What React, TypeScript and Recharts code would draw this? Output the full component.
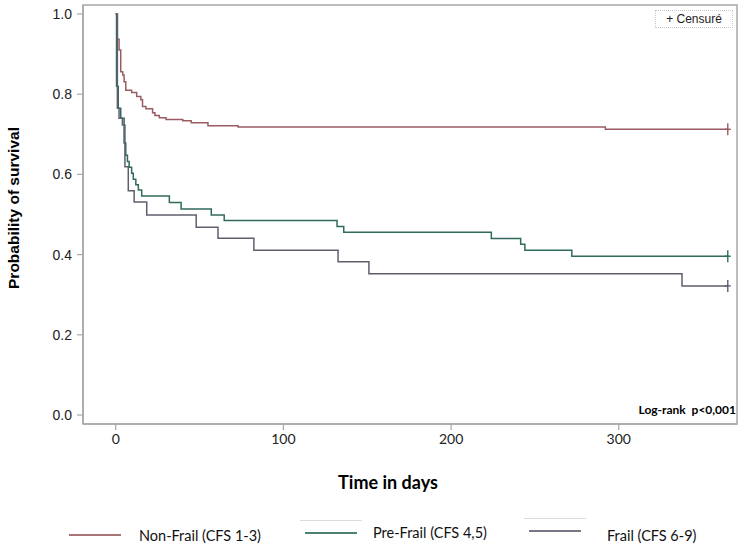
import React from "react";
import { LineChart, Line, XAxis, YAxis, ReferenceArea } from "recharts";

// ---- data ----
const nonFrailDays = [0, 1, 2, 3, 4.2, 5, 6, 9.5, 12.5, 15, 16, 18, 22, 23.4, 26, 30, 40, 45, 55, 73, 292, 365];
const nonFrailSurv = [1.0, 0.937, 0.91, 0.856, 0.848, 0.831, 0.81, 0.804, 0.794, 0.786, 0.769, 0.764, 0.754, 0.747, 0.741, 0.737, 0.734, 0.729, 0.721, 0.718, 0.7125, 0.7125];

const preFrailDays = [0, 0.5, 1.5, 3, 5, 6, 7, 8, 9.5, 10.5, 12, 13.5, 15.5, 32, 39, 57, 64.7, 132, 136, 224, 241.5, 244, 272, 365];
const preFrailSurv = [1.0, 0.82, 0.765, 0.74, 0.678, 0.648, 0.632, 0.618, 0.603, 0.588, 0.574, 0.561, 0.546, 0.53, 0.514, 0.499, 0.485, 0.47, 0.456, 0.44, 0.426, 0.411, 0.396, 0.396];

const frailDays = [0, 1, 2, 4, 5.5, 7.5, 11, 18.5, 48, 61, 82.4, 132.6, 151, 337.7, 365];
const frailSurv = [1.0, 0.765, 0.74, 0.723, 0.619, 0.559, 0.531, 0.499, 0.468, 0.441, 0.411, 0.382, 0.352, 0.322, 0.322];

const seriesNames = ["Non-Frail (CFS 1-3)", "Pre-Frail (CFS 4,5)", "Frail (CFS 6-9)"];
const seriesColors = ["#9a5c60", "#2f6a5c", "#5e5f6e"];

const xTicks = [0, 100, 200, 300];
const yTicks = [0, 0.2, 0.4, 0.6, 0.8, 1.0];

const xDomain: [number, number] = [-19.5, 370.5];
const yDomain: [number, number] = [-0.0224, 1.0224];

const toPoints = (days: number[], surv: number[]) => days.map((d, i) => ({ day: d, surv: surv[i] }));

const series = [
  { name: seriesNames[0], color: seriesColors[0], data: toPoints(nonFrailDays, nonFrailSurv) },
  { name: seriesNames[1], color: seriesColors[1], data: toPoints(preFrailDays, preFrailSurv) },
  { name: seriesNames[2], color: seriesColors[2], data: toPoints(frailDays, frailSurv) },
];

const FRAME = "#a8a8a8";

const makeCensorDot = (lastIndex: number, color: string) => (props: any) => {
  const { cx, cy, index } = props;
  if (index !== lastIndex || cx == null || cy == null) return <g key={`e${index}`} />;
  return (
    <g key={`c${index}`}>
      <line x1={cx} x2={cx} y1={cy - 6} y2={cy + 6} stroke={color} strokeWidth={1.4} />
      <line x1={cx - 3} x2={cx + 3} y1={cy} y2={cy} stroke={color} strokeWidth={1.4} />
    </g>
  );
};

const legendLineX = [69, 305, 529];
const legendTextX = [139, 373, 607];
const legendLineY = [535, 533, 531];
const legendTextY = [535, 532, 535];

export default function App() {
  return (
    <div style={{ position: "absolute", left: 0, top: 0, width: 744, height: 548, background: "#fff" }}>
      <LineChart width={744} height={548} margin={{ top: 5, right: 7, bottom: 94, left: 23 }}>
        <XAxis
          type="number"
          dataKey="day"
          domain={xDomain}
          ticks={xTicks}
          allowDataOverflow
          axisLine={{ stroke: FRAME, strokeWidth: 1.5 }}
          tickLine={{ stroke: FRAME, strokeWidth: 1.2 }}
          tickSize={6}
          tickMargin={4}
          height={30}
          tick={{ fontFamily: "Lato", fontSize: 14, fill: "#222" }}
        />
        <YAxis
          type="number"
          dataKey="surv"
          domain={yDomain}
          ticks={yTicks}
          allowDataOverflow
          width={60}
          axisLine={{ stroke: FRAME, strokeWidth: 1.5 }}
          tickLine={{ stroke: FRAME, strokeWidth: 1.2 }}
          tickSize={6}
          tickMargin={5}
          tickFormatter={(v: number) => v.toFixed(1)}
          tick={{ fontFamily: "Liberation Sans", fontSize: 14, fill: "#222" }}
        />
        <ReferenceArea
          x1={xDomain[0]}
          x2={xDomain[1]}
          y1={yDomain[0]}
          y2={yDomain[1]}
          fill="none"
          stroke={FRAME}
          strokeWidth={1.5}
          ifOverflow="visible"
        />
        {series.map((s) => (
          <Line
            key={s.name}
            data={s.data}
            dataKey="surv"
            name={s.name}
            type="stepAfter"
            stroke={s.color}
            strokeWidth={1.5}
            dot={makeCensorDot(s.data.length - 1, s.color)}
            activeDot={false}
            isAnimationActive={false}
          />
        ))}
      </LineChart>

      {/* y-axis title */}
      <div
        style={{
          position: "absolute",
          left: 13.5,
          top: 208,
          transform: "translate(-50%, -50%) rotate(-90deg)",
          whiteSpace: "nowrap",
          fontFamily: "Liberation Sans",
          fontWeight: "bold",
          fontSize: 15.5,
          color: "#000",
        }}
      >
        Probability of survival
      </div>

      {/* x-axis title */}
      <div
        style={{
          position: "absolute",
          left: 388,
          top: 482,
          transform: "translate(-50%, -50%)",
          whiteSpace: "nowrap",
          fontFamily: "Lato",
          fontWeight: "bold",
          fontSize: 18,
          color: "#000",
        }}
      >
        Time in days
      </div>

      {/* log-rank */}
      <div
        style={{
          position: "absolute",
          right: 8,
          top: 409,
          transform: "translateY(-50%)",
          whiteSpace: "nowrap",
          fontFamily: "Lato",
          fontWeight: "bold",
          fontSize: 12,
          color: "#000",
        }}
      >
        Log-rank&nbsp; p&lt;0,001
      </div>

      {/* censored legend */}
      <div
        style={{
          position: "absolute",
          left: 655,
          top: 10,
          width: 78,
          height: 18,
          border: "1px dotted #c8c8c8",
          boxSizing: "border-box",
          fontFamily: "Liberation Sans",
          fontSize: 12,
          lineHeight: "16px",
          textAlign: "center",
          color: "#222",
        }}
      >
        + Censuré
      </div>

      {/* bottom legend */}
      {series.map((s, i) => (
        <React.Fragment key={s.name}>
          {i > 0 && (
            <div
              style={{
                position: "absolute",
                left: legendLineX[i] - 5,
                top: legendLineY[i] - 13,
                width: 62,
                height: 1,
                background: "#dcdcdc",
              }}
            />
          )}
          <div
            style={{
              position: "absolute",
              left: legendLineX[i],
              top: legendLineY[i] - 1,
              width: 52,
              height: 2,
              background: s.color,
              opacity: 0.85,
            }}
          />
          <div
            style={{
              position: "absolute",
              left: legendTextX[i],
              top: legendTextY[i],
              transform: "translateY(-50%)",
              whiteSpace: "nowrap",
              fontFamily: "Lato",
              fontSize: 14.5,
              color: "#111",
            }}
          >
            {s.name}
          </div>
        </React.Fragment>
      ))}
    </div>
  );
}
